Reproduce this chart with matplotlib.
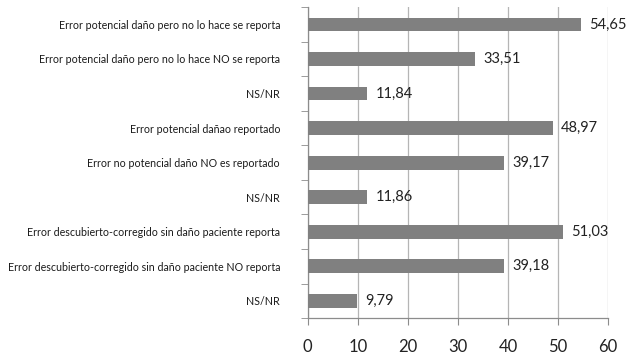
import matplotlib
matplotlib.use("Agg")
import matplotlib.pyplot as plt
import numpy as np

categories = [
    "Error potencial daño pero no lo hace se reporta",
    "Error potencial daño pero no lo hace NO se reporta",
    "NS/NR",
    "Error potencial dañao reportado",
    "Error no potencial daño NO es reportado",
    "NS/NR",
    "Error descubierto-corregido sin daño paciente reporta",
    "Error descubierto-corregido sin daño paciente NO reporta",
    "NS/NR",
]
values = [54.65, 33.51, 11.84, 48.97, 39.17, 11.86, 51.03, 39.18, 9.79]
x_ticks = [0, 10, 20, 30, 40, 50, 60]

label_font = "Lato"
num_font = "Lato"

fig = plt.figure(figsize=(6.32, 3.57), dpi=100)
ax = fig.add_axes([0.487, 0.109, 0.475, 0.871])

n = len(categories)
pos = np.arange(n)
ax.barh(pos, values, height=0.4, color="#808080", zorder=3)
ax.set_ylim(n - 0.5, -0.5)
ax.set_xlim(0, 60)

grid_c = "#b5b5b5"
axis_c = "#8c8c8c"
ax.set_xticks(x_ticks)
ax.set_xticklabels([str(t) for t in x_ticks], fontsize=12, family=num_font, color="#222222")
ax.xaxis.grid(True, color=grid_c, linewidth=0.9, zorder=0)
ax.tick_params(axis="x", length=5, color=axis_c, pad=10)

ax.set_yticks(pos)
ax.set_yticklabels(categories, fontsize=7.7, family=label_font, color="#1a1a1a")
ax.tick_params(axis="y", length=0, pad=20)
ax.set_yticks(np.arange(-0.5, n + 0.5, 1), minor=True)
ax.tick_params(axis="y", which="minor", length=5, color=axis_c)

for side in ["top", "right"]:
    ax.spines[side].set_visible(False)
for side in ["left", "bottom"]:
    ax.spines[side].set_color(axis_c)
    ax.spines[side].set_linewidth(0.9)

for p, v in zip(pos, values):
    ax.annotate(f"{v:.2f}".replace(".", ","), xy=(v, p), xytext=(6, 0),
                textcoords="offset points", va="center", ha="left",
                fontsize=10.5, family=num_font, color="#222222")

fig.savefig("out.png", dpi=100, facecolor="white")
